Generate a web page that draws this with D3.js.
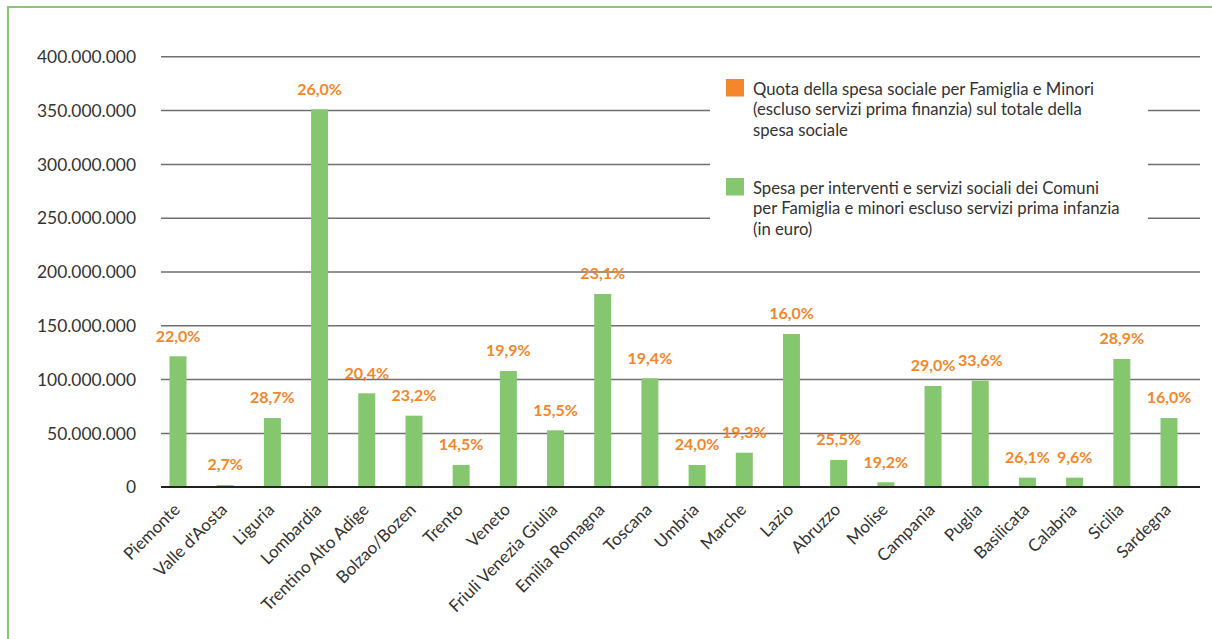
<!DOCTYPE html>
<html><head><meta charset="utf-8">
<script src="https://cdn.jsdelivr.net/npm/d3@7"></script>
<style>body{margin:0;background:#fff}svg{display:block}</style>
</head><body>
<svg id="chart" width="1212" height="639"></svg>
<script>
const categories = ["Piemonte","Valle d'Aosta","Liguria","Lombardia","Trentino Alto Adige","Bolzao/Bozen","Trento","Veneto","Friuli Venezia Giulia","Emilia Romagna","Toscana","Umbria","Marche","Lazio","Abruzzo","Molise","Campania","Puglia","Basilicata","Calabria","Sicilia","Sardegna"];
const spesa = [121200000,1500000,63800000,350700000,86800000,66000000,20200000,107500000,52400000,179100000,100700000,20200000,31600000,141900000,24800000,4100000,93600000,98500000,8400000,8400000,118700000,63800000];
const quota = [22.0,2.7,28.7,26.0,20.4,23.2,14.5,19.9,15.5,23.1,19.4,24.0,19.3,16.0,25.5,19.2,29.0,33.6,26.1,9.6,28.9,16.0];
const yTicks = [0,50000000,100000000,150000000,200000000,250000000,300000000,350000000,400000000];
const legendQuota = ["Quota della spesa sociale per Famiglia e Minori","(escluso servizi prima finanzia) sul totale della","spesa sociale"];
const legendSpesa = ["Spesa per interventi e servizi sociali dei Comuni","per Famiglia e minori escluso servizi prima infanzia","(in euro)"];

const GREEN = "#85c76f", ORANGE = "#f5862a", FRAME = "#8cc47a", TEXT = "#333333";
const FONT = "Lato, 'Open Sans', sans-serif";

const svg = d3.select("#chart");
const locale = d3.formatLocale({decimal: ",", thousands: ".", grouping: [3], currency: ["", "€"]});
const fmtY = locale.format(",");
const fmtP = locale.format(".1f");

// frame
svg.append("line").attr("x1", 8).attr("x2", 1212).attr("y1", 7).attr("y2", 7)
  .attr("stroke", FRAME).attr("stroke-width", 2.2);
svg.append("line").attr("x1", 8).attr("x2", 8).attr("y1", 6).attr("y2", 639)
  .attr("stroke", FRAME).attr("stroke-width", 2.2);

const y = d3.scaleLinear().domain([0, 400000000]).range([486.7, 56.3]);
const x = d3.scaleBand().domain(categories).range([154.4, 1192.6]).paddingInner(0.64).paddingOuter(0.32);
const gridL = 161, gridR = 1200;

// gridlines + y labels via axis
const yAxis = d3.axisLeft(y).tickValues(yTicks).tickFormat(fmtY).tickSize(-(gridR - gridL)).tickPadding(25);
const gy = svg.append("g").attr("transform", `translate(${gridL},0)`).call(yAxis);
gy.select(".domain").remove();
gy.selectAll(".tick line").attr("stroke", d => d === 0 ? "#222" : "#6f6f6f").attr("stroke-width", 1.5);
gy.selectAll(".tick text").attr("fill", TEXT).attr("font-family", FONT).attr("font-size", 17.4).attr("dy", "0.36em");

// legend background (covers gridlines)
svg.append("rect").attr("x", 710).attr("y", 62).attr("width", 438).attr("height", 185).attr("fill", "#fff");

// bars
svg.append("g").selectAll("rect").data(categories).join("rect")
  .attr("x", d => x(d)).attr("width", x.bandwidth())
  .attr("y", (d, i) => y(spesa[i])).attr("height", (d, i) => y(0) - y(spesa[i]))
  .attr("fill", GREEN);

// redraw zero line on top of bars
svg.append("line").attr("x1", gridL).attr("x2", gridR).attr("y1", y(0)).attr("y2", y(0))
  .attr("stroke", "#222").attr("stroke-width", 1.5);

// value labels
svg.append("g").selectAll("text").data(categories).join("text")
  .attr("x", d => x(d) + x.bandwidth() / 2)
  .attr("y", (d, i) => y(spesa[i]) - 20.5)
  .attr("dy", "0.36em")
  .attr("text-anchor", "middle")
  .attr("fill", ORANGE).attr("font-family", FONT).attr("font-weight", 700).attr("font-size", 16)
  .text((d, i) => fmtP(quota[i]) + "%");

// x axis labels
const xAxis = d3.axisBottom(x).tickSize(0).tickPadding(0);
const gx = svg.append("g").attr("transform", `translate(0,${y(0)})`).call(xAxis);
gx.select(".domain").remove();
gx.selectAll(".tick text")
  .attr("fill", TEXT).attr("font-family", FONT).attr("font-size", 17)
  .attr("text-anchor", "end").attr("dy", null).attr("y", 0)
  .attr("transform", "translate(3,24) rotate(-45)");

// legend
const legend = [
  {color: ORANGE, lines: legendQuota, top: 79},
  {color: GREEN, lines: legendSpesa, top: 178}
];
const lg = svg.append("g");
legend.forEach(item => {
  lg.append("rect").attr("x", 726).attr("y", item.top).attr("width", 18).attr("height", 17.5).attr("fill", item.color);
  lg.append("text").attr("font-family", FONT).attr("font-size", 16.7).attr("fill", TEXT)
    .selectAll("tspan").data(item.lines).join("tspan")
    .attr("x", 753).attr("y", (d, i) => item.top + 10 + i * 20.4).attr("dy", "0.36em").text(d => d);
});
</script>
</body></html>
